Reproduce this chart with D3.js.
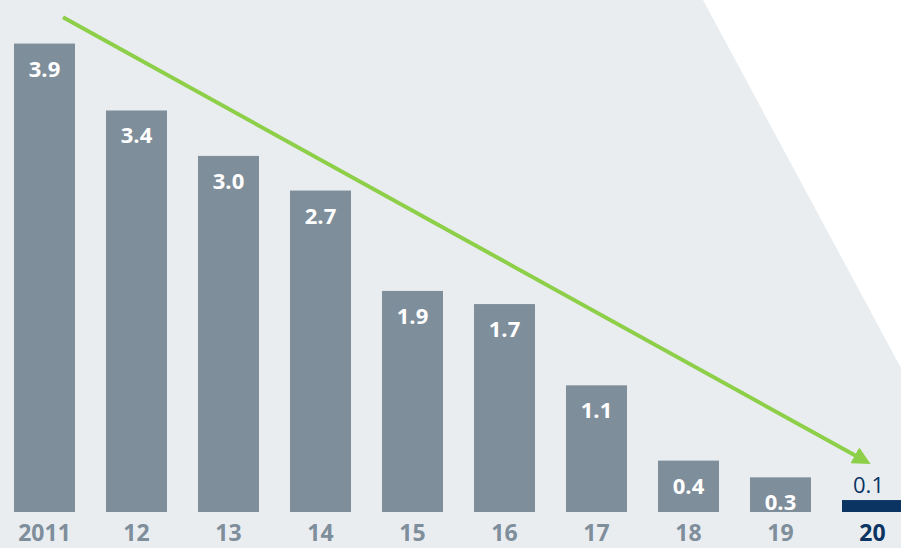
<!DOCTYPE html>
<html>
<head>
<meta charset="utf-8">
<script src="https://cdn.jsdelivr.net/npm/d3@7"></script>
<style>
  html, body { margin: 0; padding: 0; background: #fff; overflow: hidden; }
  svg { display: block; }
</style>
</head>
<body>
<script>
var years = ["2011", "12", "13", "14", "15", "16", "17", "18", "19", "20"];
var values = [3.92, 3.36, 2.98, 2.69, 1.85, 1.74, 1.06, 0.43, 0.29, 0.10];
var labels = ["3.9", "3.4", "3.0", "2.7", "1.9", "1.7", "1.1", "0.4", "0.3", "0.1"];

var width = 901,
    height = 548;

var barColor = "#7f8e9b",
    navy = "#0b3463",
    green = "#8dcf48",
    bg = "#e9edf0";

var svg = d3.select("body")
    .append("svg")
    .attr("width", width)
    .attr("height", height);

// light gray backdrop, white corner top right
svg.append("polygon")
    .attr("points", "0,0 703,0 901,368 901,548 0,548")
    .attr("fill", bg);

var x = d3.scaleBand()
    .domain(years)
    .range([-1.5, 918.5])
    .paddingInner(0.337)
    .paddingOuter(0.1685);

var y = d3.scaleLinear()
    .domain([0, 4])
    .range([512, 34]);

var last = years[years.length - 1];

svg.selectAll(".bar")
    .data(years)
    .enter().append("rect")
    .attr("class", "bar")
    .attr("x", function(d) { return x(d); })
    .attr("width", x.bandwidth())
    .attr("y", function(d, i) { return y(values[i]); })
    .attr("height", function(d, i) { return y(0) - y(values[i]); })
    .attr("fill", function(d) { return d == last ? navy : barColor; });

svg.selectAll(".val")
    .data(years)
    .enter().append("text")
    .attr("class", "val")
    .attr("x", function(d) { return x(d) + x.bandwidth() / 2 - (d == last ? 4 : 0); })
    .attr("y", function(d, i) { return d == last ? y(values[i]) - 7 : y(values[i]) + 33; })
    .attr("text-anchor", "middle")
    .style("font-family", "'Open Sans', sans-serif")
    .style("font-size", "22px")
    .style("font-weight", function(d) { return d == last ? "400" : "700"; })
    .attr("fill", function(d) { return d == last ? navy : "#fff"; })
    .text(function(d, i) { return labels[i]; });

var xAxis = d3.axisBottom(x).tickSize(0).tickPadding(0);

var gx = svg.append("g")
    .attr("transform", "translate(0," + y(0) + ")")
    .call(xAxis);
gx.select(".domain").remove();
gx.selectAll("text")
    .attr("y", 29)
    .attr("dy", null)
    .style("font-family", "'Open Sans', sans-serif")
    .style("font-size", "23px")
    .style("font-weight", "700")
    .attr("fill", function(d) { return d == last ? navy : barColor; });

// trend arrow
svg.append("defs").append("marker")
    .attr("id", "head")
    .attr("viewBox", "0 0 10 10")
    .attr("refX", 2)
    .attr("refY", 5)
    .attr("markerWidth", 4.5)
    .attr("markerHeight", 4.5)
    .attr("orient", "auto")
    .append("path")
    .attr("d", "M0,0 L10,5 L0,10 Z")
    .attr("fill", green);

svg.append("line")
    .attr("x1", x(years[0]) + 49)
    .attr("y1", y(4.14))
    .attr("x2", x(last) + 16)
    .attr("y2", y(0.46))
    .attr("stroke", green)
    .attr("stroke-width", 4)
    .attr("marker-end", "url(#head)");
</script>
</body>
</html>
